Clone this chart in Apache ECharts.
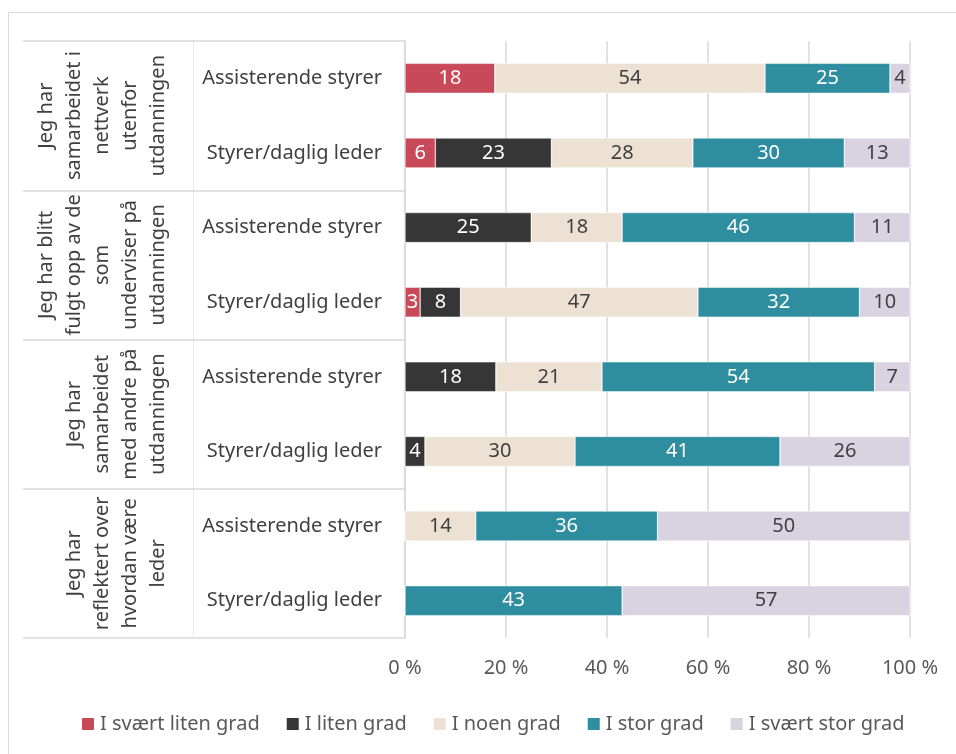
<!DOCTYPE html>
<html><head><meta charset="utf-8">
<script src="https://cdn.jsdelivr.net/npm/echarts@6/dist/echarts.min.js"></script>
<style>html,body{margin:0;padding:0;background:#fff}#c{width:956px;height:754px}</style>
</head><body><div id="c"></div>
<script>
const subCategories = ['Assisterende styrer','Styrer/daglig leder','Assisterende styrer','Styrer/daglig leder','Assisterende styrer','Styrer/daglig leder','Assisterende styrer','Styrer/daglig leder'];
const groupLabels = ['Jeg har\nsamarbeidet i\nnettverk\nutenfor\nutdanningen','Jeg har blitt\nfulgt opp av de\nsom\nunderviser på\nutdanningen','Jeg har\nsamarbeidet\nmed andre på\nutdanningen','Jeg har\nreflektert over\nhvordan være\nleder'];
const seriesNames = ['I svært liten grad','I liten grad','I noen grad','I stor grad','I svært stor grad'];
const sværtLiten = [18, 6, 0, 3, 0, 0, 0, 0];
const liten      = [0, 23, 25, 8, 18, 4, 0, 0];
const noen       = [54, 28, 18, 47, 21, 30, 14, 0];
const stor       = [25, 30, 46, 32, 54, 41, 36, 43];
const sværtStor  = [4, 13, 11, 10, 7, 26, 50, 57];
const xTicks = [0, 20, 40, 60, 80, 100];

const raw = [sværtLiten, liten, noen, stor, sværtStor];
const colors = ['#C84A5A','#363636','#EDE1D3','#2E8EA0','#D9D2E0'];
const labelColors = ['#fff','#fff','#404040','#fff','#404040'];
const sums = subCategories.map((_, i) => raw.reduce((s, a) => s + a[i], 0));
const FONT = 'Noto Sans';

const chart = echarts.init(document.getElementById('c'));
chart.setOption({
  animation: false,
  textStyle: {fontFamily: FONT},
  graphic: [{type:'rect', shape:{x:8.5, y:12.5, width:1200, height:1200}, style:{fill:'none', stroke:'#d9d9d9', lineWidth:1}, silent:true}],
  grid: {left: 405, right: 46, top: 41, bottom: 116},
  legend: {
    data: seriesNames, top: 714, left: 80, icon: 'rect', itemWidth: 14, itemHeight: 14, itemGap: 25, padding: 0,
    textStyle: {fontSize: 20, color: '#595959', fontFamily: FONT}
  },
  xAxis: {
    type: 'value', min: xTicks[0], max: xTicks[xTicks.length-1], interval: 20,
    axisLabel: {formatter: '{value} %', fontSize: 20, color: '#595959', margin: 20, fontFamily: FONT},
    axisLine: {show: false}, axisTick: {show: false},
    splitLine: {lineStyle: {color: '#d9d9d9', width: 1.5}}
  },
  yAxis: [
    {type: 'category', data: subCategories, inverse: true,
     axisLine: {show: true, lineStyle: {color: '#d9d9d9', width: 1.5}}, axisTick: {show: false},
     axisLabel: {fontSize: 20, color: '#404040', margin: 23, fontFamily: FONT}},
    {type: 'category', data: groupLabels, inverse: true, position: 'left', offset: 0,
     axisLine: {show: false},
     axisTick: {show: true, length: 382, lineStyle: {color: '#d9d9d9', width: 1.5}},
     axisLabel: {rotate: 90, interval: 0, margin: 233, fontSize: 20, lineHeight: 28, color: '#404040', fontFamily: FONT}},
    {type: 'category', data: groupLabels, inverse: true, position: 'left', offset: 212,
     axisLine: {show: true, lineStyle: {color: '#ebebeb', width: 1}},
     axisTick: {show: false}, axisLabel: {show: false}}
  ],
  series: seriesNames.map((name, k) => ({
    name, type: 'bar', stack: 'total', yAxisIndex: 0, barWidth: 30,
    itemStyle: {color: colors[k], borderColor: '#fff', borderWidth: 0.5},
    data: raw[k].map((v, i) => ({value: v / sums[i] * 100, raw: v})),
    label: {
      show: true, position: 'inside', fontSize: 20, color: labelColors[k], fontFamily: FONT,
      formatter: p => p.data.raw > 0 ? String(p.data.raw) : ''
    }
  }))
});
</script></body></html>
